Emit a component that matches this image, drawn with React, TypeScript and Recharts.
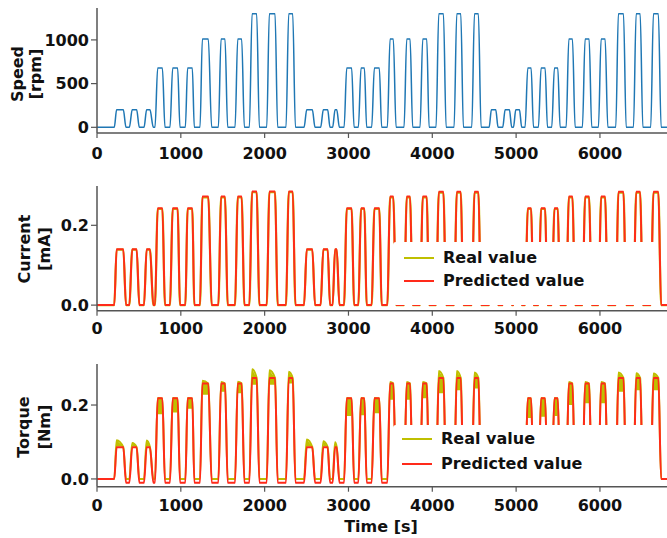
import { ComposedChart, Line, Area, XAxis, YAxis, Legend } from 'recharts'

// pulse timing [s]
const riseStart = [206, 386, 561, 692, 871, 1054, 1229, 1448, 1647, 1818, 2025, 2255,
  2470, 2668, 2811, 2948, 3118, 3277, 3464, 3663, 3854, 4045, 4260, 4471,
  4678, 4840, 4968, 5107, 5266, 5425, 5597, 5791, 5982, 6189, 6400, 6606]
const riseEnd = [234, 420, 592, 724, 903, 1081, 1257, 1480, 1679, 1850, 2056, 2287,
  2502, 2700, 2840, 2979, 3150, 3309, 3496, 3695, 3886, 4077, 4292, 4503,
  4705, 4869, 4996, 5139, 5298, 5457, 5629, 5823, 6014, 6220, 6432, 6638]
const fallStart = [314, 473, 632, 780, 962, 1137, 1328, 1527, 1726, 1905, 2124, 2335,
  2569, 2752, 2860, 3038, 3190, 3368, 3535, 3735, 3934, 4133, 4340, 4550,
  4757, 4920, 5040, 5179, 5346, 5497, 5672, 5871, 6062, 6281, 6480, 6697]
const fallEnd = [346, 505, 672, 811, 990, 1161, 1368, 1559, 1758, 1937, 2155, 2367,
  2601, 2780, 2892, 3067, 3217, 3396, 3568, 3766, 3962, 4165, 4371, 4582,
  4785, 4948, 5067, 5207, 5374, 5525, 5704, 5902, 6094, 6313, 6512, 6730]

const speedLevel = [200, 200, 200, 680, 680, 680, 1010, 1010, 1010, 1300, 1300, 1300,
  200, 200, 200, 680, 680, 680, 1010, 1010, 1010, 1300, 1300, 1300,
  200, 200, 200, 680, 680, 680, 1010, 1010, 1010, 1300, 1300, 1300]
const currentPred = [0.14, 0.14, 0.14, 0.243, 0.243, 0.243, 0.272, 0.272, 0.272, 0.285, 0.285, 0.285,
  0.14, 0.14, 0.14, 0.243, 0.243, 0.243, 0.272, 0.272, 0.272, 0.284, 0.284, 0.284,
  0.14, 0.14, 0.14, 0.243, 0.243, 0.243, 0.272, 0.272, 0.272, 0.284, 0.284, 0.284]
const currentReal = [0.139, 0.139, 0.139, 0.241, 0.241, 0.241, 0.27, 0.27, 0.27, 0.283, 0.283, 0.283,
  0.139, 0.139, 0.139, 0.241, 0.241, 0.241, 0.27, 0.27, 0.27, 0.282, 0.282, 0.282,
  0.139, 0.139, 0.139, 0.241, 0.241, 0.241, 0.27, 0.27, 0.27, 0.282, 0.282, 0.282]
const torquePred = [0.086, 0.086, 0.086, 0.218, 0.218, 0.218, 0.258, 0.258, 0.258, 0.273, 0.273, 0.273,
  0.086, 0.086, 0.086, 0.218, 0.218, 0.218, 0.258, 0.258, 0.258, 0.273, 0.273, 0.273,
  0.086, 0.086, 0.086, 0.218, 0.218, 0.218, 0.258, 0.258, 0.258, 0.273, 0.273, 0.273]
const torquePeak = [0.105, 0.097, 0.104, 0.219, 0.219, 0.219, 0.266, 0.262, 0.263, 0.297, 0.294, 0.29,
  0.107, 0.102, 0.099, 0.219, 0.219, 0.219, 0.262, 0.262, 0.262, 0.292, 0.292, 0.288,
  0.1, 0.1, 0.1, 0.219, 0.219, 0.219, 0.262, 0.262, 0.262, 0.288, 0.286, 0.285]
const torqueDip = [0.088, 0.088, 0.088, 0.175, 0.18, 0.19, 0.228, 0.236, 0.232, 0.255, 0.255, 0.258,
  0.088, 0.088, 0.088, 0.17, 0.172, 0.178, 0.214, 0.214, 0.218, 0.232, 0.24, 0.245,
  0.088, 0.088, 0.088, 0.165, 0.168, 0.17, 0.2, 0.205, 0.205, 0.236, 0.24, 0.24]
const torqueGap = -0.01

const timeTicks = [0, 1000, 2000, 3000, 4000, 5000, 6000]
const timeEnd = 6800
const speedTicks = [0, 500, 1000]
const fracTicks = [0, 0.2]

const BLUE = '#1f77b4'
const RED = '#ff2a1a'
const OLIVE = '#bfbf00'
const SPINE = '#555'
const FONT = 'DejaVu Sans'

type Pt = { t: number; v: number | null }

function squarePulses(levels: number[]): Pt[] {
  const pts: Pt[] = [{ t: 0, v: 0 }]
  levels.forEach((lv, i) => {
    pts.push({ t: riseStart[i], v: 0 }, { t: riseEnd[i], v: lv }, { t: fallStart[i], v: lv }, { t: fallEnd[i], v: 0 })
  })
  pts.push({ t: timeEnd, v: 0 })
  return pts
}

function predTorque(): Pt[] {
  const pts: Pt[] = [{ t: 0, v: 0 }]
  const last = torquePred.length - 1
  torquePred.forEach((lv, i) => {
    pts.push({ t: riseStart[i], v: i === 0 ? 0 : torqueGap }, { t: riseEnd[i], v: lv },
      { t: fallStart[i], v: lv }, { t: fallEnd[i], v: i === last ? 0 : torqueGap })
  })
  pts.push({ t: timeEnd, v: 0 })
  return pts
}

function realTorque(): Pt[] {
  const pts: Pt[] = [{ t: 0, v: 0 }]
  torquePeak.forEach((pk, i) => {
    pts.push({ t: riseStart[i], v: 0 }, { t: riseEnd[i], v: pk }, { t: fallStart[i], v: torquePred[i] }, { t: fallEnd[i], v: 0 })
  })
  pts.push({ t: timeEnd, v: 0 })
  return pts
}

function realBand() {
  const pts: { t: number; band: number[] | null }[] = []
  torquePeak.forEach((pk, i) => {
    pts.push({ t: riseEnd[i], band: [torqueDip[i], pk] }, { t: fallStart[i], band: [torqueDip[i], Math.max(torquePred[i], torqueDip[i])] })
    pts.push({ t: fallEnd[i], band: null })
  })
  return pts
}

const speedData = squarePulses(speedLevel)
const currentPredData = squarePulses(currentPred)
const currentRealData = squarePulses(currentReal)
const torquePredData = predTorque()
const torqueRealData = realTorque()
const torqueBandData = realBand()

const tickStyle = { fill: '#111', fontSize: 16, fontWeight: 'bold', fontFamily: FONT }

function LegendBox({ padTop, rowH, handleLeft }: { padTop: number; rowH: number; handleLeft: number }) {
  const items = [
    { label: 'Real value', color: OLIVE },
    { label: 'Predicted value', color: RED },
  ]
  return (
    <div style={{ paddingTop: padTop }}>
      {items.map((it) => (
        <div key={it.label} style={{ display: 'flex', alignItems: 'center', height: rowH }}>
          <span style={{ display: 'inline-block', width: 30, height: 0, borderTop: `2.5px solid ${it.color}`, marginLeft: handleLeft, marginRight: 9 }} />
          <span style={{ fontFamily: FONT, fontWeight: 'bold', fontSize: 16, color: '#111', lineHeight: 1 }}>{it.label}</span>
        </div>
      ))}
    </div>
  )
}

interface PanelProps {
  top: number
  height: number
  plotTop: number
  plotHeight: number
  domain: [number, number]
  ticks: number[]
  fmt: (v: number) => string
  xTickMargin: number
  children: React.ReactNode
  legend?: { top: number; height: number; width: number; padTop: number; rowH: number; handleLeft: number }
}

function Panel({ top, height, plotTop, plotHeight, domain, ticks, fmt, xTickMargin, children, legend }: PanelProps) {
  return (
    <div style={{ position: 'absolute', left: 0, top }}>
      <ComposedChart width={667} height={height} margin={{ top: plotTop, right: 0, bottom: 0, left: 0 }}>
        <XAxis
          dataKey="t"
          type="number"
          domain={[0, timeEnd]}
          ticks={timeTicks}
          interval={0}
          allowDataOverflow
          height={height - plotTop - plotHeight}
          tick={tickStyle}
          tickSize={5}
          tickMargin={xTickMargin}
          axisLine={{ stroke: SPINE, strokeWidth: 1.5 }}
          tickLine={{ stroke: SPINE, strokeWidth: 1.2 }}
        />
        <YAxis
          type="number"
          domain={domain}
          ticks={ticks}
          allowDataOverflow
          interval={0}
          width={97}
          tick={tickStyle}
          tickFormatter={fmt}
          tickSize={6}
          tickMargin={2}
          axisLine={{ stroke: SPINE, strokeWidth: 1.5 }}
          tickLine={{ stroke: SPINE, strokeWidth: 1.2 }}
        />
        {children}
        {legend && (
          <Legend
            layout="vertical"
            align="center"
            verticalAlign="middle"
            wrapperStyle={{ left: 393, top: legend.top, width: legend.width, height: legend.height, background: '#fff', borderRadius: 3 }}
            content={() => <LegendBox padTop={legend.padTop} rowH={legend.rowH} handleLeft={legend.handleLeft} />}
          />
        )}
      </ComposedChart>
    </div>
  )
}

export default function App() {
  return (
    <div style={{ position: 'absolute', left: 0, top: 0, width: 667, height: 538, background: '#fff', overflow: 'hidden' }}>
      <Panel top={0} height={170} plotTop={8} plotHeight={125} domain={[-65, 1365]} ticks={speedTicks}
        fmt={(v) => String(v)} xTickMargin={10}>
        <Line data={speedData} dataKey="v" type="monotone" stroke={BLUE} strokeWidth={1.5} dot={false} isAnimationActive={false} />
      </Panel>
      <Panel top={170} height={180} plotTop={16} plotHeight={124.7} domain={[-0.014, 0.2985]} ticks={fracTicks}
        fmt={(v) => v.toFixed(1)} xTickMargin={7}
        legend={{ top: 72, height: 62.5, width: 264, padTop: 4, rowH: 23, handleLeft: 11 }}>
        <Line data={currentRealData} dataKey="v" type="monotone" stroke={OLIVE} strokeWidth={2.2} dot={false} isAnimationActive={false} />
        <Line data={currentPredData} dataKey="v" type="monotone" stroke={RED} strokeWidth={2} dot={false} isAnimationActive={false} />
      </Panel>
      <Panel top={350} height={188} plotTop={14} plotHeight={122.7} domain={[-0.021, 0.311]} ticks={fracTicks}
        fmt={(v) => v.toFixed(1)} xTickMargin={8}
        legend={{ top: 75, height: 60, width: 264, padTop: 1, rowH: 25, handleLeft: 9 }}>
        <Area data={torqueBandData} dataKey="band" type="monotone" stroke="none" fill={OLIVE} fillOpacity={1} connectNulls={false} isAnimationActive={false} />
        <Line data={torqueRealData} dataKey="v" type="monotone" stroke={OLIVE} strokeWidth={2} dot={false} isAnimationActive={false} />
        <Line data={torquePredData} dataKey="v" type="monotone" stroke={RED} strokeWidth={2} dot={false} isAnimationActive={false} />
      </Panel>
      <svg width={667} height={538} style={{ position: 'absolute', left: 0, top: 0, pointerEvents: 'none' }}>
        <g fontFamily={FONT} fontWeight="bold" fontSize={16} fill="#111" textAnchor="middle">
          <text x={22.5} y={74} transform="rotate(-90 22.5 74)">Speed</text>
          <text x={41} y={74} transform="rotate(-90 41 74)">[rpm]</text>
          <text x={30} y={249} transform="rotate(-90 30 249)">Current</text>
          <text x={50} y={249} transform="rotate(-90 50 249)">[mA]</text>
          <text x={28.5} y={427} transform="rotate(-90 28.5 427)">Torque</text>
          <text x={50} y={427} transform="rotate(-90 50 427)">[Nm]</text>
          <text x={381} y={532}>Time [s]</text>
        </g>
      </svg>
    </div>
  )
}
